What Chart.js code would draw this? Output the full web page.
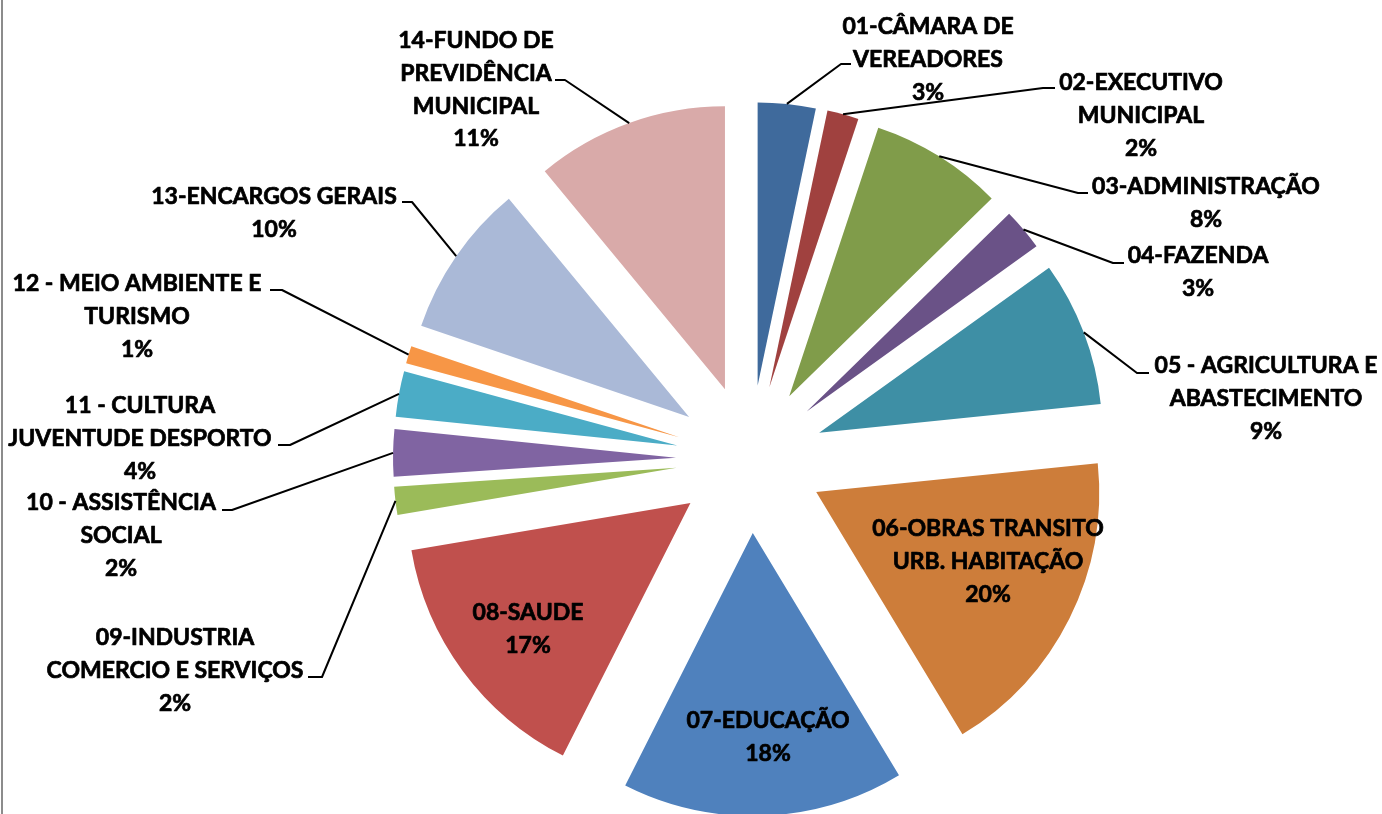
<!DOCTYPE html>
<html>
<head>
<meta charset="utf-8">
<title>Despesas por órgão</title>
<script src="https://cdn.jsdelivr.net/npm/chart.js@4.4.0/dist/chart.umd.min.js"></script>
<style>
  html,body{margin:0;padding:0;background:#fff;}
  #wrap{position:relative;width:1382px;height:814px;}
  #frame{position:absolute;left:1px;top:0;width:2px;height:814px;background:#8c8c8c;}
</style>
</head>
<body>
<div id="wrap">
  <canvas id="pieChart"></canvas>
  <div id="frame"></div>
</div>
<script>
// ===================== DADOS =====================
const orgaos=[
  ['01-CÂMARA DE','VEREADORES'],
  ['02-EXECUTIVO','MUNICIPAL'],
  ['03-ADMINISTRAÇÃO'],
  ['04-FAZENDA'],
  ['05 - AGRICULTURA E','ABASTECIMENTO'],
  ['06-OBRAS TRANSITO','URB. HABITAÇÃO'],
  ['07-EDUCAÇÃO'],
  ['08-SAUDE'],
  ['09-INDUSTRIA','COMERCIO E SERVIÇOS'],
  ['10 - ASSISTÊNCIA','SOCIAL'],
  ['11 - CULTURA','JUVENTUDE DESPORTO'],
  ['12 - MEIO AMBIENTE E','TURISMO'],
  ['13-ENCARGOS GERAIS'],
  ['14-FUNDO DE','PREVIDÊNCIA','MUNICIPAL']
];
// fatia de cada órgão (% do círculo)
const valores=[3.3,1.8,7.6,2.4,8.3,18.0,16.1,14.9,1.6,2.7,2.6,1.0,8.8,11.0];
// percentuais escritos nos rótulos
const percentuais=['3%','2%','8%','3%','9%','20%','18%','17%','2%','2%','4%','1%','10%','11%'];

// ===================== ESTILO / LAYOUT =====================
const cores=['#3F6A9C','#A0413F','#809C4A','#6A5287','#3E8FA5','#CD7D3A','#4F81BD',
             '#C0504D','#9BBB59','#8064A2','#4BACC6','#F79646','#AAB9D7','#D9AAA9'];
// centro x, centro da 1ª linha y, cotovelo e ponta da linha guia
const rotulos=[
  {x:928, y:26,  guia:[[841,64],[851,64]]},
  {x:1141,y:82,  guia:[[1043,88],[1055,88]]},
  {x:1206,y:186, guia:[[1078,193],[1088,193]]},
  {x:1198,y:255, guia:[[1113,263],[1124,263]]},
  {x:1266,y:365, guia:[[1137,373],[1149,373]]},
  {x:988, y:528},
  {x:768, y:720},
  {x:528, y:612},
  {x:175, y:637, guia:[[322,677],[308,677]]},
  {x:121, y:502, guia:[[232,510],[222,510]]},
  {x:140, y:405, guia:[[290,445],[278,445]]},
  {x:137, y:283, guia:[[282,290],[270,290]]},
  {x:274, y:196, guia:[[412,202],[402,202]]},
  {x:476, y:40,  guia:[[565,80],[555,80]]}
];
const EXPLODE=74;      // afastamento das fatias
const RAIO=283;
const LINHA=32.8;
const FONTE='bold 23px Lato, "Open Sans", sans-serif';

// ===================== PLUGINS =====================
const explodir={
  id:'explodir',
  afterDatasetUpdate(chart,args){
    args.meta.data.forEach(arc=>{
      const mid=(arc.startAngle+arc.endAngle)/2;
      arc.x+=Math.cos(mid)*EXPLODE;
      arc.y+=Math.sin(mid)*EXPLODE;
    });
  }
};

const rotulosPlugin={
  id:'rotulos',
  afterDatasetsDraw(chart){
    const ctx=chart.ctx;
    const meta=chart.getDatasetMeta(0);
    ctx.save();
    ctx.font=FONTE;
    ctx.fillStyle='#000';
    ctx.strokeStyle='#000';
    ctx.textAlign='center';
    ctx.textBaseline='alphabetic';
    ctx.lineJoin='round';
    meta.data.forEach((arc,i)=>{
      const r=rotulos[i];
      if(r.guia){
        const mid=(arc.startAngle+arc.endAngle)/2;
        ctx.lineWidth=2;
        ctx.beginPath();
        ctx.moveTo(arc.x+Math.cos(mid)*arc.outerRadius,arc.y+Math.sin(mid)*arc.outerRadius);
        r.guia.forEach(p=>ctx.lineTo(p[0],p[1]));
        ctx.stroke();
      }
      // contorno fino para engrossar o texto (como Calibri negrito)
      ctx.lineWidth=0.7;
      const linhas=[...orgaos[i],percentuais[i]];
      linhas.forEach((t,k)=>{
        const y=r.y+k*LINHA+8;
        ctx.fillText(t,r.x,y);
        ctx.strokeText(t,r.x,y);
      });
    });
    ctx.restore();
  }
};

// ===================== GRÁFICO =====================
new Chart(document.getElementById('pieChart').getContext('2d'),{
  type:'pie',
  data:{labels:orgaos,datasets:[{data:valores,backgroundColor:cores,borderWidth:0}]},
  options:{
    responsive:true,maintainAspectRatio:false,animation:false,
    radius:RAIO,
    layout:{padding:{left:118,right:0,top:104,bottom:0}},
    plugins:{legend:{display:false},tooltip:{enabled:false}},
    events:[]
  },
  plugins:[explodir,rotulosPlugin]
});
</script>
</body>
</html>
